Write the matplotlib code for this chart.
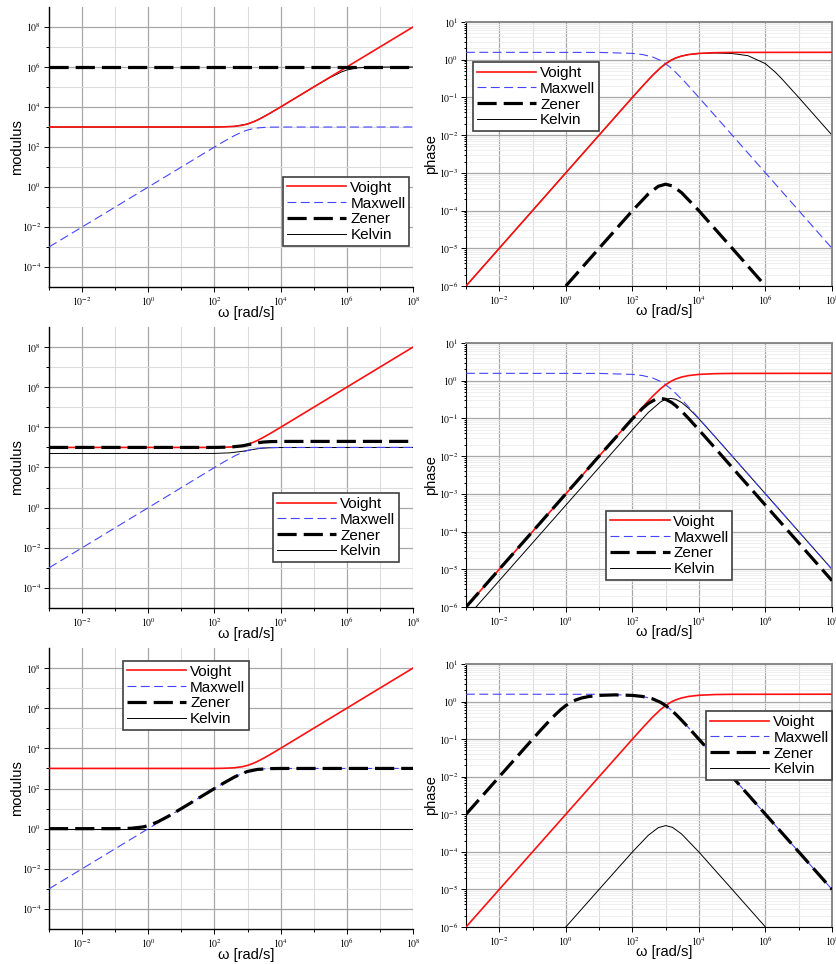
import numpy as np
import matplotlib.pyplot as plt
from matplotlib.ticker import FixedLocator, FuncFormatter, NullFormatter

plt.rcParams['font.family'] = ['Liberation Sans', 'DejaVu Sans']
plt.rcParams['mathtext.fontset'] = 'stix'

# === data (omega in rad/s) ===
# modulus, shared curves
voight_mod_w = [1e-3, 1e2, 2e2, 4e2, 7e2, 1e3, 1.5e3, 2e3, 3e3, 5e3, 1e4, 1e8]
voight_mod = [1e3, 1e3, 1020, 1077, 1221, 1414, 1803, 2236, 3162, 5099, 1.005e4, 1e8]
maxwell_mod_w = [1e-3, 1e2, 2e2, 4e2, 7e2, 1e3, 1.5e3, 2e3, 3e3, 5e3, 1e4, 1e8]
maxwell_mod = [1e-3, 99.5, 196, 371, 573, 707, 832, 894, 949, 981, 995, 1e3]

# modulus, row 1
zener_mod1_w = [1e-3, 1e8]
zener_mod1 = [1e6, 1e6]
kelvin_mod1_w = [1e-3, 1e2, 4e2, 1e3, 2e3, 5e3, 1e4, 1e5, 3e5, 7e5, 1e6, 2e6, 4e6, 1e7, 1e8]
kelvin_mod1 = [1e3, 1e3, 1077, 1414, 2236, 5099, 1e4, 1e5, 2.87e5, 5.7e5, 7.07e5, 8.94e5, 9.7e5, 9.95e5, 1e6]

# modulus, row 2
zener_mod2_w = [1e-3, 1e2, 3e2, 7e2, 1e3, 2e3, 3e3, 5e3, 1e4, 1e8]
zener_mod2 = [1e3, 1e3, 1040, 1200, 1350, 1700, 1850, 1950, 1990, 2e3]
kelvin_mod2_w = [1e-3, 1e2, 3e2, 7e2, 1e3, 2e3, 3e3, 5e3, 1e4, 1e8]
kelvin_mod2 = [500, 502, 540, 640, 710, 860, 920, 970, 990, 1e3]

# modulus, row 3
zener_mod3_w = [1e-3, 1e-1, 3e-1, 7e-1, 1e0, 2e0, 4e0, 1e1, 1e2, 2e2, 4e2, 7e2, 1e3, 2e3, 5e3, 1e4, 1e8]
zener_mod3 = [1, 1.0, 1.04, 1.22, 1.41, 2.24, 4.1, 10, 99.5, 196, 371, 573, 707, 894, 981, 995, 1e3]
kelvin_mod3_w = [1e-3, 1e8]
kelvin_mod3 = [1, 1]

# phase, shared curves
voight_ph_w = [1e-3, 1e1, 1e2, 2e2, 4e2, 7e2, 1e3, 1.5e3, 2e3, 3e3, 5e3, 1e4, 3e4, 1e5, 1e8]
voight_ph = [1e-6, 1e-2, 0.0997, 0.197, 0.381, 0.611, 0.785, 0.983, 1.107, 1.249, 1.373, 1.471, 1.537, 1.561, 1.571]
maxwell_ph_w = [1e-3, 1e1, 1e2, 2e2, 4e2, 7e2, 1e3, 1.5e3, 2e3, 3e3, 5e3, 1e4, 3e4, 1e5, 1e8]
maxwell_ph = [1.571, 1.561, 1.471, 1.373, 1.190, 0.960, 0.785, 0.588, 0.464, 0.322, 0.197, 0.0997, 0.0333, 0.01, 1e-5]

# phase, row 1
zener_ph1_w = [1e0, 1e1, 1e2, 3e2, 6e2, 1e3, 1.6e3, 3e3, 1e4, 1e5, 1e6]
zener_ph1 = [1e-6, 1e-5, 9.9e-5, 2.75e-4, 4.4e-4, 5e-4, 4.5e-4, 3e-4, 9.9e-5, 1e-5, 1e-6]
kelvin_ph1_w = [1e-3, 1e1, 1e2, 2e2, 4e2, 7e2, 1e3, 1.5e3, 2e3, 3e3, 5e3, 1e4, 3e4, 1e5, 3e5, 1e6, 2e6, 3e6, 1e7, 1e8]
kelvin_ph1 = [1e-6, 1e-2, 0.0997, 0.197, 0.381, 0.611, 0.785, 0.983, 1.107, 1.249, 1.373, 1.461, 1.507, 1.461, 1.277, 0.785, 0.463, 0.322, 0.0997, 0.01]

# phase, row 2
zener_ph2_w = [1e-3, 1e1, 1e2, 2e2, 3e2, 5e2, 7e2, 1e3, 1.5e3, 2e3, 3e3, 5e3, 1e4, 3e4, 1e5, 1e8]
zener_ph2 = [1e-6, 1e-2, 0.0977, 0.183, 0.249, 0.322, 0.340, 0.322, 0.266, 0.219, 0.157, 0.098, 0.0497, 0.0167, 5e-3, 5e-6]
kelvin_ph2_w = [1e-3, 1e1, 1e2, 3e2, 7e2, 1e3, 1.4e3, 2e3, 3e3, 5e3, 1e4, 3e4, 1e5, 1e8]
kelvin_ph2 = [5e-7, 5e-3, 0.0497, 0.143, 0.274, 0.322, 0.340, 0.322, 0.266, 0.183, 0.0977, 0.0333, 0.01, 1e-5]

# phase, row 3
zener_ph3_w = [1e-3, 1e-1, 2e-1, 4e-1, 7e-1, 1e0, 1.5e0, 2e0, 3e0, 5e0, 1e1, 3e1, 1e2, 2e2, 4e2, 7e2,
               1e3, 1.5e3, 2e3, 3e3, 5e3, 1e4, 3e4, 1e5, 1e8]
zener_ph3 = [1e-3, 0.0997, 0.197, 0.380, 0.610, 0.784, 0.981, 1.105, 1.246, 1.368, 1.461, 1.507, 1.461, 1.368, 1.187, 0.958,
             0.785, 0.587, 0.463, 0.321, 0.197, 0.0997, 0.0333, 0.01, 1e-5]
kelvin_ph3_w = zener_ph1_w
kelvin_ph3 = zener_ph1

labels = ["Voight", "Maxwell", "Zener", "Kelvin"]

# === styles ===
STY = {
    "Voight": dict(color="#ff1010", lw=1.2, ls="-", zorder=4),
    "Maxwell": dict(color="#4545ff", lw=0.8, ls=(0, (8, 4)), zorder=3),
    "Zener": dict(color="black", lw=2.3, ls=(0, (6, 2.2)), zorder=5),
    "Kelvin": dict(color="black", lw=0.7, ls="-", zorder=2),
}

W, H = 836, 964
fig = plt.figure(figsize=(W / 100, H / 100), dpi=100)


def add_ax(x0, y0, x1, y1):
    return fig.add_axes([x0 / W, 1 - y1 / H, (x1 - x0) / W, (y1 - y0) / H])


def pow_fmt(v, pos):
    return r"$10^{%d}$" % int(round(np.log10(v)))


def style_common(ax):
    ax.set_xscale("log")
    ax.set_yscale("log")
    ax.set_xlim(1e-3, 1e8)
    ax.xaxis.set_major_locator(FixedLocator([10.0 ** e for e in range(-2, 9, 2)]))
    ax.xaxis.set_minor_locator(FixedLocator([10.0 ** e for e in range(-3, 8, 2)]))
    ax.xaxis.set_major_formatter(FuncFormatter(pow_fmt))
    ax.xaxis.set_minor_formatter(NullFormatter())
    ax.tick_params(which="both", labelsize=7, direction="out", width=0.7, pad=2)
    ax.tick_params(which="major", length=3.5)
    ax.tick_params(which="minor", length=2.5)
    ax.grid(which="major", color="#a8a8a8", lw=0.9)
    ax.grid(which="minor", color="#dcdcdc", lw=0.8)
    ax.set_axisbelow(True)
    ax.set_xlabel("ω [rad/s]", fontsize=10.5)
    ax.xaxis.set_label_coords(0.541, -0.068)


def draw(ax, curves, loc):
    handles = {}
    for name, (w, v) in zip(labels, curves):
        ln, = ax.plot(w, v, label=name, **STY[name])
        handles[name] = ln
    leg = ax.legend([handles[n] for n in labels], labels, loc="upper left", bbox_to_anchor=loc,
                    borderaxespad=0, fancybox=False, framealpha=1, edgecolor="#404040",
                    fontsize=11, handlelength=3.9, handletextpad=0.25, labelspacing=0.12,
                    borderpad=0.25)
    leg.get_frame().set_linewidth(1.2)
    leg.set_zorder(10)


def modulus_panel(ax, curves, loc):
    style_common(ax)
    ax.set_ylim(1e-5, 1e9)
    ax.yaxis.set_major_locator(FixedLocator([10.0 ** e for e in range(-4, 9, 2)]))
    ax.yaxis.set_minor_locator(FixedLocator([10.0 ** e for e in range(-3, 8, 2)]))
    ax.yaxis.set_major_formatter(FuncFormatter(pow_fmt))
    ax.yaxis.set_minor_formatter(NullFormatter())
    for s in ["top", "right"]:
        ax.spines[s].set_visible(False)
    for s in ["left", "bottom"]:
        ax.spines[s].set_linewidth(1.0)
    ax.set_ylabel("modulus", fontsize=10.5)
    ax.yaxis.set_label_coords(-0.069, 0.5)
    draw(ax, curves, loc)


def phase_panel(ax, curves, loc):
    style_common(ax)
    ax.set_ylim(1e-6, 1e1)
    ax.yaxis.set_major_locator(FixedLocator([10.0 ** e for e in range(-6, 2)]))
    minors = [m * 10.0 ** e for e in range(-6, 1) for m in range(2, 10)]
    ax.yaxis.set_minor_locator(FixedLocator(minors))
    ax.yaxis.set_major_formatter(FuncFormatter(pow_fmt))
    ax.yaxis.set_minor_formatter(NullFormatter())
    ax.tick_params(axis="y", which="minor", length=1.5)
    ax.grid(axis="y", which="minor", color="#ececec", lw=0.6)
    for s in ["top", "right"]:
        ax.spines[s].set_color("#888888")
        ax.spines[s].set_linewidth(1.4)
    ax.set_ylabel("phase", fontsize=10.5)
    ax.yaxis.set_label_coords(-0.077, 0.5)
    draw(ax, curves, loc)


# === row 1 ===
ax = add_ax(49, 7, 413, 287)
modulus_panel(ax, [(voight_mod_w, voight_mod), (maxwell_mod_w, maxwell_mod),
                   (zener_mod1_w, zener_mod1), (kelvin_mod1_w, kelvin_mod1)], (0.643, 0.393))
ax = add_ax(466, 22, 832, 286)
phase_panel(ax, [(voight_ph_w, voight_ph), (maxwell_ph_w, maxwell_ph),
                 (zener_ph1_w, zener_ph1), (kelvin_ph1_w, kelvin_ph1)], (0.019, 0.848))

# === row 2 ===
ax = add_ax(49, 327, 413, 608)
modulus_panel(ax, [(voight_mod_w, voight_mod), (maxwell_mod_w, maxwell_mod),
                   (zener_mod2_w, zener_mod2), (kelvin_mod2_w, kelvin_mod2)], (0.615, 0.409))
ax = add_ax(466, 343, 832, 607)
phase_panel(ax, [(voight_ph_w, voight_ph), (maxwell_ph_w, maxwell_ph),
                 (zener_ph2_w, zener_ph2), (kelvin_ph2_w, kelvin_ph2)], (0.383, 0.364))

# === row 3 ===
ax = add_ax(49, 648, 413, 929)
modulus_panel(ax, [(voight_mod_w, voight_mod), (maxwell_mod_w, maxwell_mod),
                   (zener_mod3_w, zener_mod3), (kelvin_mod3_w, kelvin_mod3)], (0.203, 0.954))
ax = add_ax(466, 664, 832, 927)
phase_panel(ax, [(voight_ph_w, voight_ph), (maxwell_ph_w, maxwell_ph),
                 (zener_ph3_w, zener_ph3), (kelvin_ph3_w, kelvin_ph3)], (0.656, 0.821))

fig.savefig("out.png", dpi=100)
